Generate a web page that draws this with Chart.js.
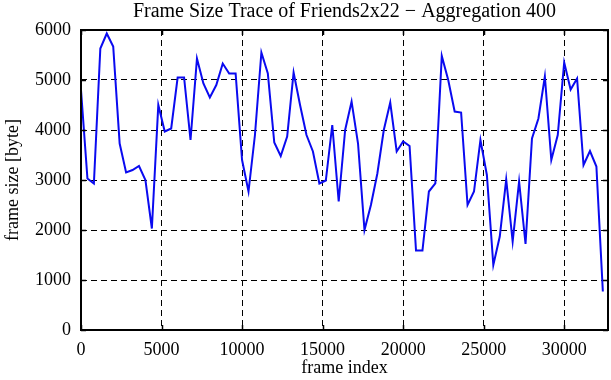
<!DOCTYPE html>
<html>
<head>
<meta charset="utf-8">
<script src="https://cdn.jsdelivr.net/npm/chart.js@4"></script>
<style>
    html, body { margin: 0; padding: 0; background: #fff; }
    #wrap { width: 611px; height: 380px; }
</style>
</head>
<body>
<div id="wrap"><canvas id="traceChart"></canvas></div>
<script>
// aggregated frame sizes, one value every 400 frames
const frameIndex = [];
for (let i = 0; i < 82; i++) frameIndex.push(i * 400);

const frameSize = [
    4800, 3030, 2930, 5630, 5930, 5670, 3730, 3150, 3200, 3280,
    3000, 2030, 4500, 3970, 4030, 5050, 5050, 3800, 5430, 4930,
    4650, 4900, 5330, 5130, 5130, 3400, 2770, 3900, 5550, 5130,
    3750, 3480, 3870, 5150, 4500, 3900, 3570, 2930, 2990, 4100,
    2570, 4000, 4570, 3730, 2000, 2500, 3130, 4000, 4550, 3570,
    3770, 3680, 1590, 1590, 2770, 2930, 5480, 5000, 4370, 4350,
    2500, 2770, 3800, 3100, 1300, 1870, 3010, 1770, 2970, 1720,
    3830, 4230, 5070, 3400, 3900, 5350, 4810, 5030, 3300, 3580,
    3270, 770
];

const xTicks = [0, 5000, 10000, 15000, 20000, 25000, 30000];
const yTicks = [0, 1000, 2000, 3000, 4000, 5000, 6000];
const xMax = 32720;

const serif = "'Liberation Serif', 'DejaVu Serif', serif";

// black frame with inward tick marks on all four sides
const framePlugin = {
    id: 'frame',
    afterDatasetsDraw(chart) {
        const { ctx, chartArea: a, scales } = chart;
        ctx.save();
        ctx.strokeStyle = '#000';
        ctx.lineWidth = 1.5;
        ctx.setLineDash([]);
        ctx.beginPath();
        xTicks.forEach(v => {
            const px = Math.round(scales.x.getPixelForValue(v)) + 0.5;
            ctx.moveTo(px, a.bottom); ctx.lineTo(px, a.bottom - 5);
            ctx.moveTo(px, a.top); ctx.lineTo(px, a.top + 5);
        });
        yTicks.forEach(v => {
            const py = Math.round(scales.y.getPixelForValue(v)) + 0.5;
            ctx.moveTo(a.left, py); ctx.lineTo(a.left + 5, py);
            ctx.moveTo(a.right, py); ctx.lineTo(a.right - 5, py);
        });
        ctx.stroke();
        ctx.lineWidth = 2;
        ctx.strokeRect(a.left, a.top, a.right - a.left, a.bottom - a.top);
        ctx.restore();
    }
};

new Chart(document.getElementById('traceChart'), {
    type: 'line',
    data: {
        datasets: [{
            data: frameIndex.map((x, i) => ({ x: x, y: frameSize[i] })),
            borderColor: '#0a0af0',
            borderWidth: 2,
            pointRadius: 0,
            tension: 0,
            fill: false
        }]
    },
    options: {
        responsive: true,
        maintainAspectRatio: false,
        animation: false,
        events: [],
        layout: { padding: { left: 0, right: 3, top: 0, bottom: 0 } },
        plugins: {
            legend: { display: false },
            tooltip: { enabled: false },
            title: {
                display: true,
                fullSize: false,
                text: 'Frame Size Trace of Friends2x22 \u2212 Aggregation 400',
                color: '#000',
                font: { family: serif, size: 20, weight: 'normal', lineHeight: 1.2 },
                padding: { top: 0, bottom: 6 }
            }
        },
        scales: {
            x: {
                type: 'linear',
                min: 0,
                max: xMax,
                afterBuildTicks: s => { s.ticks = xTicks.map(v => ({ value: v })); },
                afterFit: s => { s.height = 50; },
                grid: { color: '#000', lineWidth: 1, drawTicks: false },
                border: { display: false, dash: [6, 4] },
                ticks: {
                    color: '#000',
                    padding: 9,
                    maxRotation: 0,
                    font: { family: serif, size: 18 },
                    callback: v => String(v)
                },
                title: {
                    display: true,
                    text: 'frame index',
                    color: '#000',
                    font: { family: serif, size: 18 },
                    padding: { top: 0, bottom: 1 }
                }
            },
            y: {
                min: 0,
                max: 6000,
                afterBuildTicks: s => { s.ticks = yTicks.map(v => ({ value: v })); },
                afterFit: s => { s.width = 81; },
                grid: { color: '#000', lineWidth: 1, drawTicks: false },
                border: { display: false, dash: [6, 4] },
                ticks: {
                    color: '#000',
                    padding: 10,
                    font: { family: serif, size: 18 },
                    callback: v => String(v)
                },
                title: {
                    display: true,
                    text: 'frame size [byte]',
                    color: '#000',
                    font: { family: serif, size: 18 },
                    padding: { top: 2, bottom: 0 }
                }
            }
        }
    },
    plugins: [framePlugin]
});
</script>
</body>
</html>
